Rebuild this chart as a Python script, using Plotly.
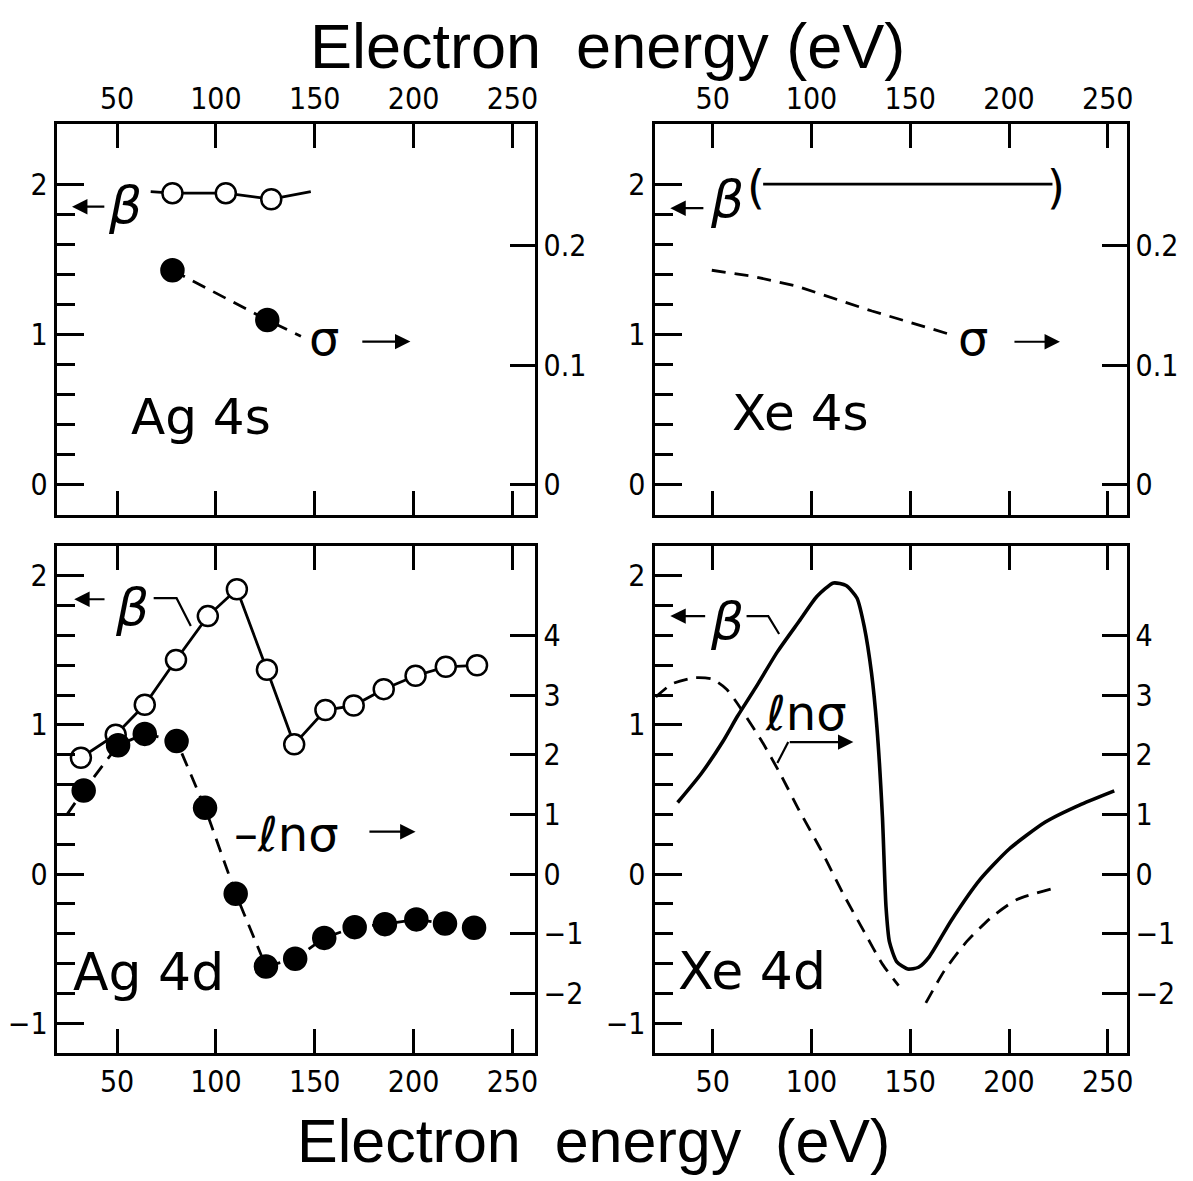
import plotly.graph_objects as go

# ---------------- data ----------------
# Ag 4s (top left)
ag4s_beta_e = [78, 105, 128]
ag4s_beta = [1.94, 1.94, 1.90]
ag4s_beta_line_e = [67, 78, 105, 128, 148]
ag4s_beta_line = [1.95, 1.94, 1.94, 1.90, 1.95]
ag4s_sigma_e = [78, 126]
ag4s_sigma = [0.179, 0.1375]
ag4s_sigma_line_e = [78, 126, 143]
ag4s_sigma_line = [0.179, 0.1375, 0.124]

# Xe 4s (top right)
xe4s_beta_e = [75.5, 222]
xe4s_beta = [2.0, 2.0]
xe4s_sigma_e = [49.5, 70.1, 92.1, 105, 130.6, 149, 171.1]
xe4s_sigma = [0.179, 0.174, 0.166, 0.159, 0.145, 0.136, 0.125]

# Ag 4d (bottom left)
ag4d_beta_e = [31.7, 49.3, 64.0, 79.8, 95.9, 110.6, 125.8, 139.6, 155.4, 169.7, 184.9, 201, 216.3, 232.1]
ag4d_beta = [0.78, 0.935, 1.135, 1.436, 1.73, 1.91, 1.37, 0.87, 1.10, 1.13, 1.24, 1.33, 1.39, 1.40]
ag4d_lns_e = [33.1, 50.5, 64.0, 80.1, 94.5, 110, 125.3, 140.1, 154.8, 170.2, 185.5, 201.4, 215.9, 230.6]
ag4d_lns = [1.40, 2.16, 2.35, 2.23, 1.11, -0.33, -1.55, -1.42, -1.07, -0.89, -0.84, -0.76, -0.83, -0.90]
ag4d_lns_start_e = [24.7]
ag4d_lns_start = [1.0]

# Xe 4d (bottom right)
xe4d_beta_e = [32.2, 44.1, 55.1, 62.5, 71.7, 82.7, 93.7, 102.8, 111.1, 117.5, 123, 126.7, 130.4,
               133.1, 135.9, 137.7, 139.5, 143.2, 148.7, 154.2, 159.7, 170.7, 185.4, 200.1, 218.4, 236.8, 253.3]
xe4d_beta = [0.48, 0.673, 0.889, 1.058, 1.25, 1.49, 1.695, 1.863, 1.952, 1.935, 1.851, 1.659, 1.346,
             0.986, 0.385, -0.216, -0.457, -0.589, -0.637, -0.625, -0.553, -0.313, -0.036, 0.168, 0.349, 0.469, 0.558]
xe4d_lns_e1 = [21.2, 29.4, 40.5, 49.6, 57, 64.3, 75.3, 84.5, 93.7, 104.7, 115.7, 126.7, 135.9, 144.1]
xe4d_lns1 = [2.97, 3.19, 3.29, 3.27, 3.10, 2.77, 2.20, 1.66, 1.07, 0.41, -0.31, -0.97, -1.51, -1.87]
xe4d_lns_e2 = [157.9, 167.1, 178.1, 190.9, 203.8, 221.2]
xe4d_lns2 = [-2.16, -1.63, -1.15, -0.73, -0.43, -0.25]

# tick labels
energy_ticks = [50, 100, 150, 200, 250]
beta_ticks_top = [0, 1, 2]
beta_ticks_bottom = [-1, 0, 1, 2]
sigma_ticks = [0, 0.1, 0.2]
sigma_ticktext = ["0", "0.1", "0.2"]
lns_ticks = [-2, -1, 0, 1, 2, 3, 4]

# ---------------- layout helpers ----------------
OFF = 8                      # page offset of the plot div
W, H = 1193 - OFF, 1181 - OFF
def fx(px):
    return (px - OFF) / W
def fy(py):
    return 1 - (py - OFF) / H

TICKF = "Liberation Sans Narrow, DejaVu Sans Condensed, Liberation Sans, sans-serif"
TITLEF = "Liberation Sans, sans-serif"
LETTER = "DejaVu Sans, Liberation Sans, sans-serif"
GREEK = "DejaVu Sans, Liberation Sans, sans-serif"
tickfont = dict(family=TICKF, size=30, color="black")

def xaxis(rng, dom, anchor, side):
    return dict(range=rng, domain=dom, anchor=anchor, side=side,
                tickmode="array", tickvals=energy_ticks, ticks="inside", ticklen=24,
                tickwidth=2.5, tickcolor="black", showline=True, linewidth=3, linecolor="black",
                mirror="ticks", showgrid=False, zeroline=False, tickfont=tickfont)

def beta_axis(rng, dom, anchor, ticks, minor_vals):
    return dict(range=rng, domain=dom, anchor=anchor, side="left",
                tickmode="array", tickvals=ticks, ticks="inside", ticklen=27, tickwidth=2.5,
                tickcolor="black", showline=True, linewidth=3, linecolor="black",
                showgrid=False, zeroline=False, tickfont=tickfont,
                minor=dict(tickmode="array", tickvals=minor_vals, ticks="inside", ticklen=18,
                           tickwidth=2.5, tickcolor="black", showgrid=False))

def right_axis(rng, overlay, anchor, ticks, text=None):
    d = dict(range=rng, overlaying=overlay, anchor=anchor, side="right",
             tickmode="array", tickvals=ticks, ticks="inside", ticklen=25, tickwidth=2.5,
             tickcolor="black", showline=True, linewidth=3, linecolor="black",
             showgrid=False, zeroline=False, tickfont=tickfont)
    if text is not None:
        d["ticktext"] = text
    return d

xl = [fx(54), fx(536)]
xr = [fx(657), fx(1133)]
yt = [fy(515), fy(124)]
yb = [fy(1053), fy(546)]
rng_left = [19.4, 261.2]
rng_right = [20.5, 259.5]
beta_top = [-0.2, 2.4]
sig_top = [-0.2 * 0.1254, 2.4 * 0.1254]
beta_bot = [-1.2, 2.2]
lns_bot = [-3.0, 5.5]
minor_top = [round(0.2 * i, 1) for i in range(0, 11)]
minor_bot = [round(-1 + 0.2 * i, 1) for i in range(0, 16)]

fig = go.Figure()

LW = 2.8
DASH = "14px,9px"

def line(x, y, xa, ya, dash=None, width=LW):
    fig.add_trace(go.Scatter(x=x, y=y, xaxis=xa, yaxis=ya, mode="lines",
                             line=dict(color="black", width=width, dash=dash),
                             showlegend=False, hoverinfo="skip"))

def markers(x, y, xa, ya, filled):
    fig.add_trace(go.Scatter(x=x, y=y, xaxis=xa, yaxis=ya, mode="markers",
                             marker=dict(size=20 if not filled else 22, symbol="circle",
                                         color="black" if filled else "white",
                                         line=dict(color="black", width=2.5)),
                             showlegend=False, hoverinfo="skip"))

# Ag 4s
line(ag4s_beta_line_e, ag4s_beta_line, "x", "y")
markers(ag4s_beta_e, ag4s_beta, "x", "y", False)
line(ag4s_sigma_line_e, ag4s_sigma_line, "x", "y2", dash=DASH)
markers(ag4s_sigma_e, ag4s_sigma, "x", "y2", True)

# Xe 4s
line(xe4s_beta_e, xe4s_beta, "x2", "y3")
line(xe4s_sigma_e, xe4s_sigma, "x2", "y4", dash=DASH)

# Ag 4d
line(ag4d_lns_start_e + ag4d_lns_e, ag4d_lns_start + ag4d_lns, "x3", "y6", dash=DASH)
markers(ag4d_lns_e, ag4d_lns, "x3", "y6", True)
line(ag4d_beta_e, ag4d_beta, "x3", "y5")
markers(ag4d_beta_e, ag4d_beta, "x3", "y5", False)

# Xe 4d
fig.add_trace(go.Scatter(x=xe4d_beta_e, y=xe4d_beta, xaxis="x4", yaxis="y7", mode="lines",
                         line=dict(color="black", width=3.6, shape="spline", smoothing=0.6),
                         showlegend=False, hoverinfo="skip"))
fig.add_trace(go.Scatter(x=xe4d_lns_e1, y=xe4d_lns1, xaxis="x4", yaxis="y8", mode="lines",
                         line=dict(color="black", width=LW, dash=DASH, shape="spline", smoothing=0.6),
                         showlegend=False, hoverinfo="skip"))
fig.add_trace(go.Scatter(x=xe4d_lns_e2, y=xe4d_lns2, xaxis="x4", yaxis="y8", mode="lines",
                         line=dict(color="black", width=LW, dash=DASH, shape="spline", smoothing=0.6),
                         showlegend=False, hoverinfo="skip"))

# leader lines for labels
line([68.5, 80.1, 87.3], [1.85, 1.85, 1.663], "x3", "y5", width=2.2)
line([67.1, 78.1, 83.6], [1.73, 1.73, 1.61], "x4", "y7", width=2.2)
line([82.7, 88.2], [0.745, 0.885], "x4", "y7", width=2.2)

annotations = []

def text(t, x, y, xr_, yr_, size, family=LETTER):
    annotations.append(dict(text=t, x=x, y=y, xref=xr_, yref=yr_, showarrow=False,
                            xanchor="center", yanchor="middle",
                            font=dict(family=family, size=size, color="black")))

def arrow(x0, y0, x1, y1, xr_, yr_):
    annotations.append(dict(text="", x=x1, y=y1, ax=x0, ay=y0, xref=xr_, yref=yr_,
                            axref=xr_, ayref=yr_, showarrow=True, arrowhead=2,
                            arrowsize=1.4, arrowwidth=2.2, arrowcolor="black"))

# titles
text("Electron\u00a0\u00a0energy\u00a0(eV)", fx(610), fy(46), "paper", "paper", 63, family=TITLEF)
text("Electron\u00a0\u00a0energy\u00a0\u00a0(eV)", fx(595), fy(1141), "paper", "paper", 61, family=TITLEF)

# Ag 4s labels
text("<i>β</i>", 54.1, 1.86, "x", "y", 52, family=GREEK)
arrow(44.3, 1.85, 27.2, 1.85, "x", "y")
text("σ", 154.5, 0.98, "x", "y", 48, family=GREEK)
arrow(173.3, 0.953, 198.4, 0.953, "x", "y")
text("Ag 4s", 92.7, 0.454, "x", "y", 50)

# Xe 4s labels
text("<i>β</i>", 57, 1.90, "x2", "y3", 52, family=GREEK)
text("(", 72, 1.98, "x2", "y3", 46)
text(")", 223.9, 1.98, "x2", "y3", 46)
arrow(46, 1.84, 28.5, 1.84, "x2", "y3")
text("σ", 181.8, 0.98, "x2", "y3", 48, family=GREEK)
arrow(202, 0.952, 225.8, 0.952, "x2", "y3")
text("Xe 4s", 94.6, 0.476, "x2", "y3", 50)

# Ag 4d labels
text("<i>β</i>", 57.5, 1.79, "x3", "y5", 52, family=GREEK)
arrow(44.4, 1.843, 28.3, 1.843, "x3", "y5")
text("\u2013\u2113nσ", 135.7, 0.27, "x3", "y5", 48, family=GREEK)
arrow(176.9, 0.284, 201, 0.284, "x3", "y5")
text("Ag 4d", 66, -0.655, "x3", "y5", 52)

# Xe 4d labels
text("<i>β</i>", 57, 1.70, "x4", "y7", 52, family=GREEK)
arrow(46.9, 1.73, 28.5, 1.73, "x4", "y7")
text("\u2113nσ", 97.3, 1.08, "x4", "y7", 48, family=GREEK)
arrow(88.2, 0.885, 121.2, 0.885, "x4", "y7")
text("Xe 4d", 69.8, -0.65, "x4", "y7", 52)

fig.update_layout(
    width=W, height=H, margin=dict(l=0, r=0, t=0, b=0),
    paper_bgcolor="white", plot_bgcolor="white", showlegend=False,
    xaxis=xaxis(rng_left, xl, "y", "top"),
    yaxis=beta_axis(beta_top, yt, "x", beta_ticks_top, minor_top),
    yaxis2=right_axis(sig_top, "y", "x", sigma_ticks, sigma_ticktext),
    xaxis2=xaxis(rng_right, xr, "y3", "top"),
    yaxis3=beta_axis(beta_top, yt, "x2", beta_ticks_top, minor_top),
    yaxis4=right_axis(sig_top, "y3", "x2", sigma_ticks, sigma_ticktext),
    xaxis3=xaxis(rng_left, xl, "y5", "bottom"),
    yaxis5=beta_axis(beta_bot, yb, "x3", beta_ticks_bottom, minor_bot),
    yaxis6=right_axis(lns_bot, "y5", "x3", lns_ticks),
    xaxis4=xaxis(rng_right, xr, "y7", "bottom"),
    yaxis7=beta_axis(beta_bot, yb, "x4", beta_ticks_bottom, minor_bot),
    yaxis8=right_axis(lns_bot, "y7", "x4", lns_ticks),
    annotations=annotations,
)

fig.write_html("out.html")
